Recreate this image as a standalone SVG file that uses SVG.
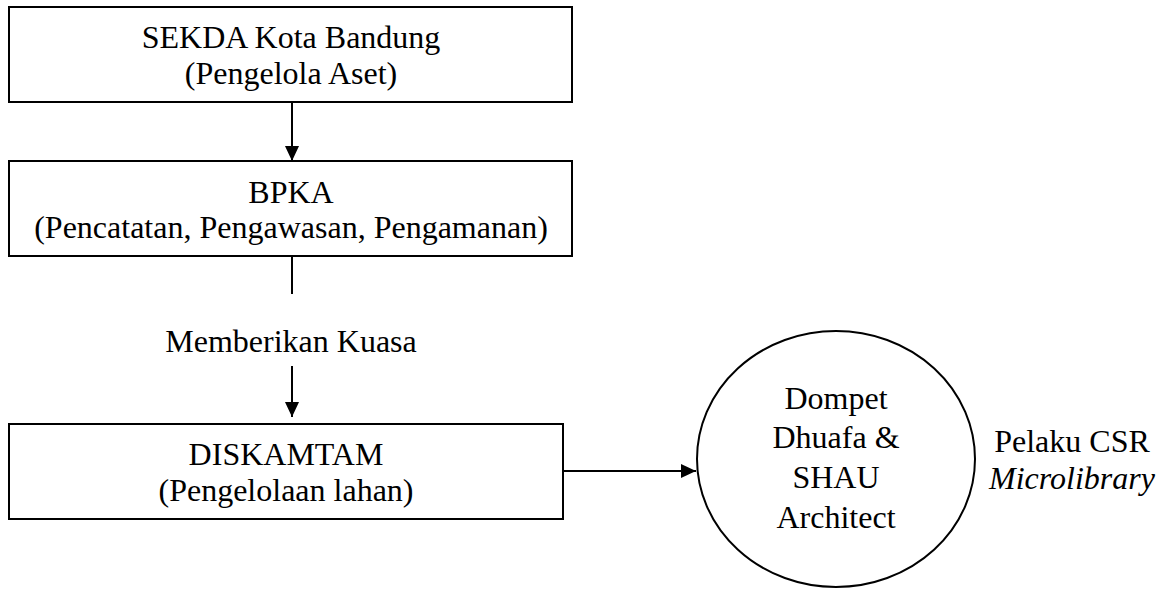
<svg xmlns="http://www.w3.org/2000/svg" width="1164" height="589" viewBox="0 0 1164 589">
  <style>
    .box { fill: #fff; stroke: #000; stroke-width: 2; }
    .t { font-family: "Liberation Serif", "DejaVu Serif", serif; font-size: 32px; fill: #000; text-anchor: middle; }
    .ti { font-style: italic; }
    .edge { stroke: #000; stroke-width: 2; fill: none; }
  </style>
  <defs>
    <marker id="arrow" viewBox="0 0 15 14" refX="15" refY="7" markerWidth="15" markerHeight="14" markerUnits="userSpaceOnUse" orient="auto">
      <path d="M0,0 L15,7 L0,14 Z" fill="#000"/>
    </marker>
  </defs>
  <rect width="1164" height="589" fill="#fff"/>

  <!-- connectors between the units -->
  <g id="connectors">
    <line class="edge" x1="292" y1="102" x2="292" y2="161" marker-end="url(#arrow)"/>
    <line class="edge" x1="292" y1="256" x2="292" y2="294"/>
    <line class="edge" x1="292" y1="366" x2="292" y2="417" marker-end="url(#arrow)"/>
    <line class="edge" x1="563" y1="471" x2="696" y2="471" marker-end="url(#arrow)"/>
  </g>

  <g id="sekda">
    <rect class="box" x="9" y="7" width="563" height="95"/>
    <text class="t" x="291" y="48">SEKDA Kota Bandung</text>
    <text class="t" x="291" y="84">(Pengelola Aset)</text>
  </g>

  <g id="bpka">
    <rect class="box" x="9" y="161" width="563" height="95"/>
    <text class="t" x="291" y="203">BPKA</text>
    <text class="t" x="291" y="238">(Pencatatan, Pengawasan, Pengamanan)</text>
  </g>

  <g id="label-kuasa">
    <text class="t" x="291" y="352">Memberikan Kuasa</text>
  </g>

  <g id="diskamtam">
    <rect class="box" x="9" y="424" width="554" height="95"/>
    <text class="t" x="286" y="465">DISKAMTAM</text>
    <text class="t" x="286" y="501">(Pengelolaan lahan)</text>
  </g>

  <g id="csr">
    <ellipse class="box" cx="836" cy="459" rx="139" ry="128"/>
    <text class="t" x="836" y="409">Dompet</text>
    <text class="t" x="836" y="448">Dhuafa &amp;</text>
    <text class="t" x="836" y="488">SHAU</text>
    <text class="t" x="836" y="528">Architect</text>
  </g>

  <g id="csr-label">
    <text class="t" x="1072" y="452">Pelaku CSR</text>
    <text class="t ti" x="1072" y="489">Microlibrary</text>
  </g>
</svg>
